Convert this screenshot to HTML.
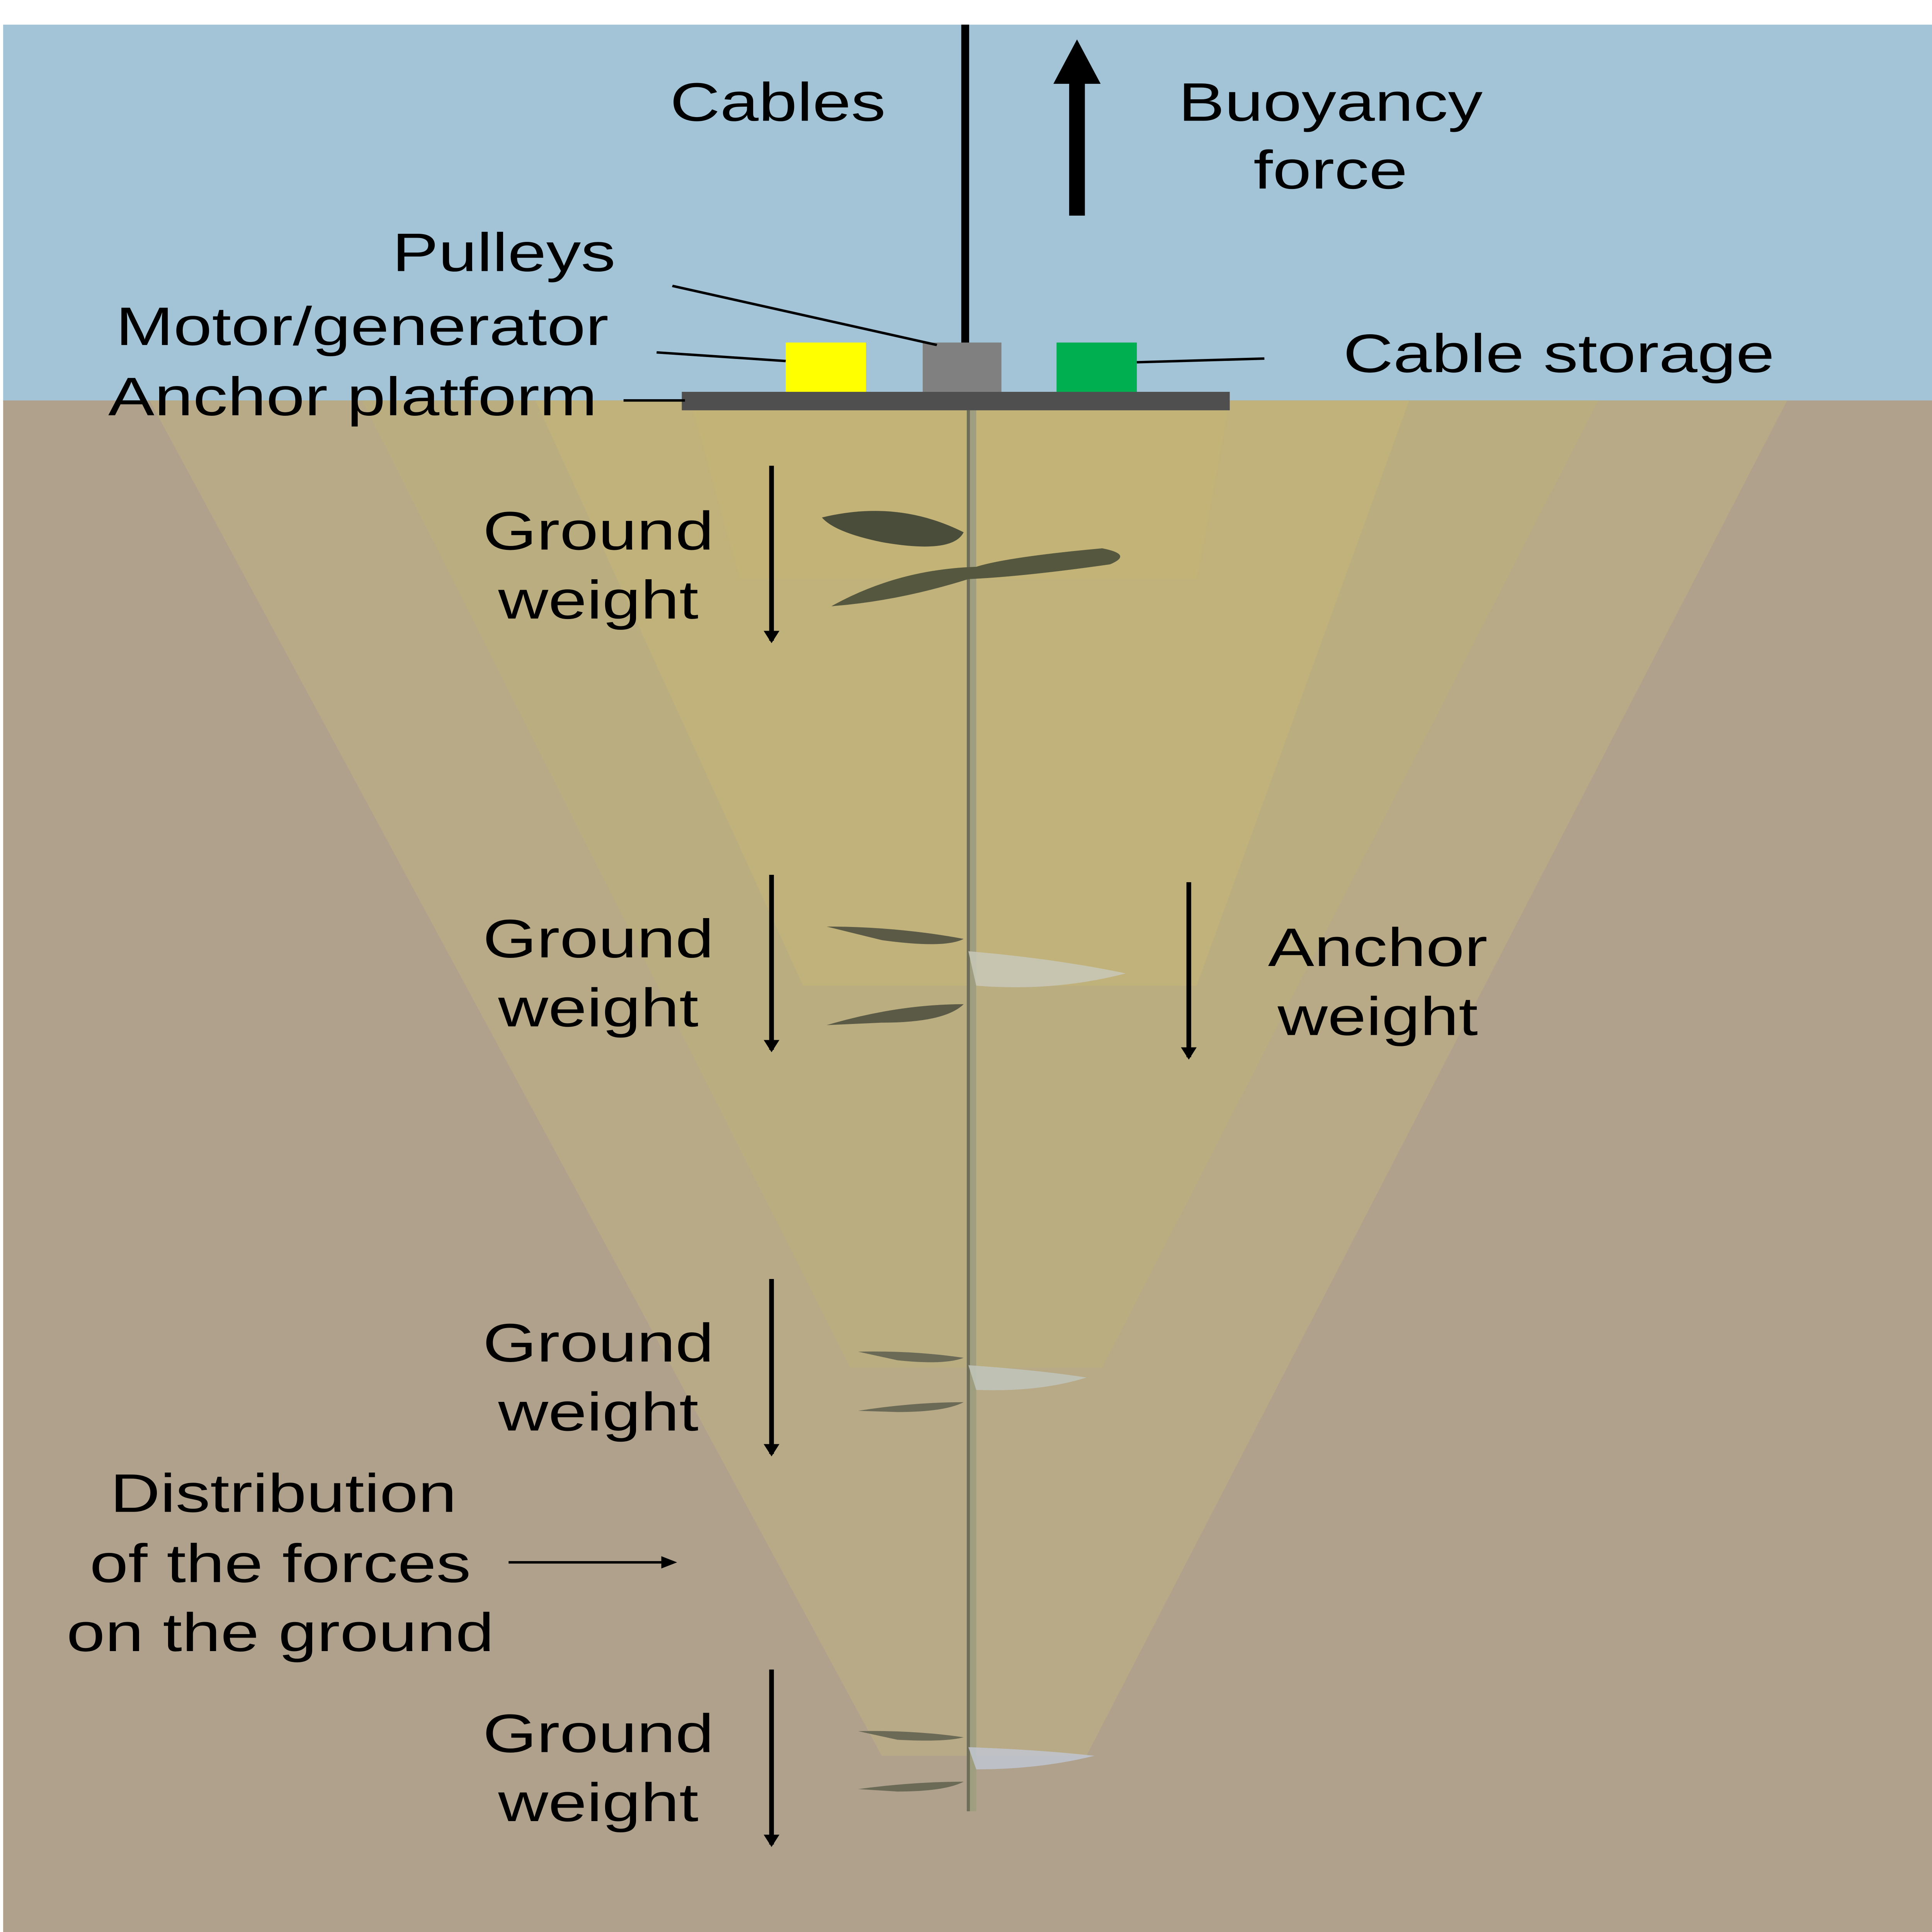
<!DOCTYPE html>
<html><head><meta charset="utf-8"><style>html,body{margin:0;padding:0;background:#fff;width:100%;height:100%;overflow:hidden}svg{display:block;width:100vw;height:100vh}</style></head>
<body>
<svg viewBox="0 0 1227 1568" preserveAspectRatio="none" xmlns="http://www.w3.org/2000/svg" font-family="Liberation Sans, Arial, sans-serif">
<defs>
<marker id="ah" markerWidth="10" markerHeight="10" refX="8" refY="5" orient="auto" markerUnits="userSpaceOnUse"><path d="M0,0 L10,5 L0,10 z" fill="#000"/></marker>
</defs>
<rect x="0" y="0" width="1227" height="1568" fill="#fff"/>
<rect x="2" y="20" width="1225" height="306" fill="#a3c3d6"/>
<rect x="2" y="325" width="1225" height="1243" fill="#b0a18d"/>
<polygon points="95,325 1135,325 690,1425 560,1425" fill="#b8aa86"/>
<polygon points="230,325 1015,325 700,1110 540,1110" fill="#baad80"/>
<polygon points="340,325 895,325 760,800 510,800" fill="#c0b27a"/>
<polygon points="440,333 780,333 760,470 470,470" fill="#c4b474" opacity="0.6"/>
<line x1="617" y1="333" x2="617" y2="1470" stroke="#a09e80" stroke-width="6"/>
<line x1="615" y1="333" x2="615" y2="1470" stroke="#6f6e58" stroke-width="2"/>
<path d="M522,420 Q570,405 612,432 Q605,450 560,440 Q530,432 522,420z" fill="#4a4d3a"/>
<path d="M528,492 Q570,462 620,460 Q640,452 700,445 Q720,450 705,458 Q650,468 615,470 Q570,488 528,492z" fill="#55583f"/>
<path d="M525,752 Q570,752 612,762 Q600,770 560,763 Z" fill="#5a5a46"/>
<path d="M615,772 Q670,778 715,790 Q670,805 620,800 Z" fill="#c8c8b8" opacity="0.85"/>
<path d="M525,832 Q570,815 612,815 Q600,830 560,830 Z" fill="#5a5a46"/>
<path d="M545,1097 Q580,1096 612,1102 Q600,1108 570,1104 Z" fill="#6a6a56"/>
<path d="M615,1108 Q660,1112 690,1118 Q660,1130 620,1128 Z" fill="#c0c6bc" opacity="0.85"/>
<path d="M545,1145 Q580,1138 612,1138 Q600,1146 570,1146 Z" fill="#6a6a56"/>
<path d="M545,1405 Q580,1404 612,1410 Q600,1414 570,1412 Z" fill="#6a6a56"/>
<path d="M615,1418 Q660,1420 695,1425 Q660,1436 620,1436 Z" fill="#c0c6d0" opacity="0.85"/>
<path d="M545,1452 Q580,1446 612,1446 Q600,1454 570,1454 Z" fill="#6a6a56"/>
<line x1="613" y1="20" x2="613" y2="280" stroke="#000" stroke-width="5"/>
<rect x="433" y="318" width="348" height="15" fill="#4f4f4f"/>
<rect x="499" y="278" width="51" height="40" fill="#ffff00"/>
<rect x="586" y="278" width="50" height="40" fill="#808080"/>
<rect x="671" y="278" width="51" height="40" fill="#00b050"/>
<rect x="679" y="65" width="10" height="110" fill="#000"/>
<polygon points="669,68 684,32 699,68" fill="#000"/>
<line x1="427" y1="232" x2="595" y2="280" stroke="#000" stroke-width="2"/>
<line x1="417" y1="286" x2="499" y2="293" stroke="#000" stroke-width="2"/>
<line x1="722" y1="294" x2="803" y2="291" stroke="#000" stroke-width="2"/>
<line x1="396" y1="325" x2="435" y2="325" stroke="#000" stroke-width="2"/>
<g stroke="#000" stroke-width="3" marker-end="url(#ah)">
<line x1="490" y1="378" x2="490" y2="520"/>
<line x1="490" y1="710" x2="490" y2="852"/>
<line x1="490" y1="1038" x2="490" y2="1180"/>
<line x1="490" y1="1355" x2="490" y2="1497"/>
<line x1="755" y1="716" x2="755" y2="858"/>
<line x1="323" y1="1268" x2="428" y2="1268" stroke-width="2"/>
</g>
<g font-size="44" fill="#000">
<text x="494" y="98" text-anchor="middle">Cables</text>
<text x="845" y="98" text-anchor="middle">Buoyancy</text>
<text x="845" y="153" text-anchor="middle">force</text>
<text x="320" y="220" text-anchor="middle">Pulleys</text>
<text x="230" y="280" text-anchor="middle">Motor/generator</text>
<text x="224" y="337" text-anchor="middle">Anchor platform</text>
<text x="990" y="302" text-anchor="middle">Cable storage</text>
<text x="380" y="446" text-anchor="middle">Ground</text>
<text x="380" y="502" text-anchor="middle">weight</text>
<text x="380" y="777" text-anchor="middle">Ground</text>
<text x="380" y="833" text-anchor="middle">weight</text>
<text x="875" y="784" text-anchor="middle">Anchor</text>
<text x="875" y="840" text-anchor="middle">weight</text>
<text x="380" y="1105" text-anchor="middle">Ground</text>
<text x="380" y="1161" text-anchor="middle">weight</text>
<text x="180" y="1227" text-anchor="middle">Distribution</text>
<text x="178" y="1284" text-anchor="middle">of the forces</text>
<text x="178" y="1340" text-anchor="middle">on the ground</text>
<text x="380" y="1422" text-anchor="middle">Ground</text>
<text x="380" y="1478" text-anchor="middle">weight</text>
</g>
</svg>
</body></html>
